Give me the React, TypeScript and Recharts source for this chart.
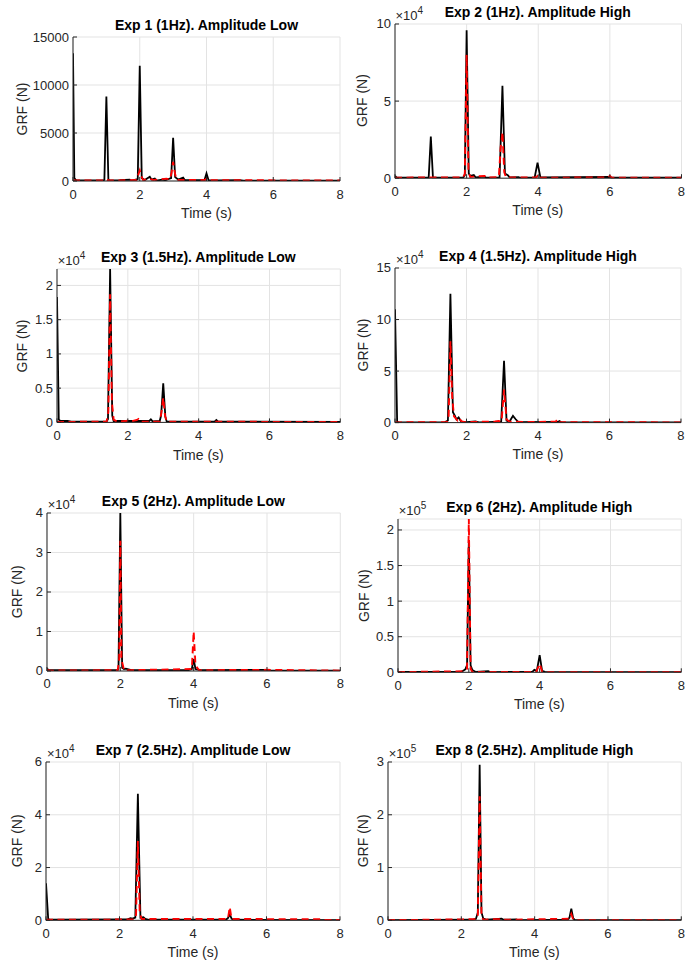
import { CartesianGrid, Line, LineChart, XAxis, YAxis } from "recharts";

type Pt = [number, number];

// time axis shared by all panels
const timeTicks = [0, 2, 4, 6, 8];

const exp1Measured: Pt[] = [
	[0, 13300], [0.04, 300], [0.1, 50], [0.9, 50], [0.94, 120], [1.0, 8800], [1.06, 150], [1.1, 50],
	[1.4, 80], [1.7, 150], [1.75, 50], [1.94, 200], [2.0, 12000], [2.06, 300], [2.15, 100], [2.3, 450],
	[2.35, 150], [2.45, 250], [2.5, 50], [2.7, 150], [2.75, 50], [2.85, 200], [2.94, 300], [3.0, 4500],
	[3.06, 400], [3.15, 150], [3.3, 350], [3.35, 100], [3.6, 80], [3.94, 100], [4.0, 800], [4.06, 100],
	[4.3, 50], [5.0, 100], [5.1, 30], [8, 30],
];
const exp1Model: Pt[] = [
	[0, 50], [0.9, 50], [0.97, 200], [1.03, 100], [1.1, 50], [1.9, 100], [1.95, 600], [2.0, 1100],
	[2.05, 500], [2.1, 100], [2.3, 250], [2.4, 100], [2.8, 250], [2.9, 150], [2.95, 800], [3.0, 2000],
	[3.05, 900], [3.1, 100], [3.95, 100], [4.0, 250], [4.05, 80], [5.0, 80], [8, 50],
];

const exp2Measured: Pt[] = [
	[0, 1500], [0.05, 300], [0.94, 300], [1.0, 27000], [1.06, 300], [1.9, 300], [1.95, 2000], [2.0, 96000],
	[2.06, 3000], [2.1, 1500], [2.2, 2000], [2.25, 500], [2.5, 1000], [2.55, 300], [2.92, 500], [3.0, 60000],
	[3.07, 3000], [3.15, 2000], [3.2, 500], [3.45, 700], [3.5, 300], [3.9, 500], [3.98, 10000],
	[4.06, 500], [6.0, 800], [6.05, 300], [8, 300],
];
const exp2Model: Pt[] = [
	[0, 300], [1.0, 500], [1.9, 500], [1.95, 3000], [2.0, 80000], [2.05, 5000], [2.1, 800], [2.5, 1500],
	[2.55, 300], [2.9, 800], [2.95, 20000], [2.98, 25000], [3.0, 30000], [3.05, 4000], [3.1, 500],
	[3.95, 500], [4.0, 2500], [4.05, 300], [5.95, 500], [6.0, 1500], [6.05, 300], [8, 300],
];

const exp3Measured: Pt[] = [
	[0, 18300], [0.05, 400], [0.1, 200], [0.3, 200], [0.4, 100], [1.4, 100], [1.44, 500], [1.5, 22400],
	[1.56, 1000], [1.6, 200], [2.6, 200], [2.65, 450], [2.7, 150], [2.9, 200], [2.94, 1000], [3.0, 5700],
	[3.06, 800], [3.1, 100], [4.45, 100], [4.5, 350], [4.55, 100], [8, 80],
];
const exp3Model: Pt[] = [
	[0, 50], [0.8, 100], [1.4, 100], [1.45, 1500], [1.5, 18700], [1.55, 3000], [1.6, 400], [1.7, 100],
	[2.0, 250], [2.05, 100], [2.25, 350], [2.3, 500], [2.35, 100], [2.9, 100], [2.95, 1500], [3.0, 3600],
	[3.05, 1000], [3.1, 100], [4.5, 100], [8, 50],
];

const exp4Measured: Pt[] = [
	[0, 110000], [0.06, 1000], [0.1, 300], [1.4, 500], [1.48, 2000], [1.55, 125000], [1.62, 10000],
	[1.67, 7000], [1.72, 3000], [1.78, 5000], [1.85, 1000], [2.0, 500], [2.25, 1200], [2.35, 300],
	[2.97, 1000], [3.05, 60000], [3.12, 2000], [3.2, 800], [3.3, 6500], [3.37, 3500], [3.45, 500],
	[4.55, 600], [4.6, 1500], [4.65, 300], [8, 300],
];
const exp4Model: Pt[] = [
	[0, 200], [1.45, 500], [1.5, 5000], [1.55, 79000], [1.6, 25000], [1.65, 6000], [1.75, 2000],
	[1.8, 4500], [1.85, 1500], [1.95, 500], [2.8, 1000], [2.9, 1500], [2.98, 1000], [3.05, 32000],
	[3.12, 3000], [3.2, 1000], [3.7, 500], [4.5, 1000], [4.55, 3500], [4.6, 500], [8, 200],
];

const exp5Measured: Pt[] = [
	[0, 600], [0.05, 200], [1.9, 200], [1.95, 500], [2.0, 40000], [2.05, 800], [2.1, 500], [2.15, 600],
	[2.3, 200], [3.85, 200], [3.95, 500], [4.0, 3000], [4.05, 500], [4.2, 200], [6.0, 300], [6.05, 100],
	[8, 100],
];
const exp5Model: Pt[] = [
	[0, 300], [0.1, 100], [1.93, 200], [1.97, 3000], [2.0, 33000], [2.03, 3000], [2.1, 300], [2.15, 500],
	[2.2, 200], [3.95, 500], [4.0, 10000], [4.05, 1500], [4.1, 800], [4.15, 200], [6.0, 300], [8, 100],
];

const exp6Measured: Pt[] = [
	[0, 500], [1.8, 1000], [1.9, 4000], [1.95, 10000], [2.0, 186000], [2.05, 10000], [2.1, 3000],
	[2.2, 500], [2.55, 1500], [2.6, 300], [3.8, 1000], [3.85, 3500], [3.92, 2000], [4.0, 24000],
	[4.07, 2000], [4.15, 500], [8, 300],
];
const exp6Model: Pt[] = [
	[0, 300], [1.85, 1500], [1.95, 5000], [2.0, 216000], [2.05, 5000], [2.1, 500], [3.9, 500],
	[4.0, 12000], [4.07, 1000], [4.15, 300], [8, 300],
];

const exp7Measured: Pt[] = [
	[0, 14000], [0.06, 500], [0.1, 200], [2.2, 300], [2.3, 800], [2.35, 600], [2.43, 1000], [2.5, 48000],
	[2.57, 1000], [2.65, 1200], [2.7, 500], [2.8, 200], [4.9, 300], [4.95, 800], [5.0, 2200], [5.05, 600],
	[5.1, 200], [8, 100],
];
const exp7Model: Pt[] = [
	[0, 200], [2.4, 300], [2.45, 2000], [2.5, 30000], [2.55, 3000], [2.6, 500], [4.95, 500], [5.0, 5000],
	[5.05, 500], [7.5, 400], [7.55, 100], [8, 100],
];

const exp8Measured: Pt[] = [
	[0, 500], [2.3, 1000], [2.4, 3000], [2.45, 15000], [2.5, 295000], [2.55, 15000], [2.6, 3000],
	[2.7, 1000], [3.1, 3000], [3.15, 1000], [3.5, 1500], [3.55, 500], [4.9, 1000], [4.95, 5000],
	[5.0, 22000], [5.05, 4000], [5.1, 500], [8, 500],
];
const exp8Model: Pt[] = [
	[0, 300], [2.4, 2000], [2.45, 8000], [2.5, 235000], [2.55, 8000], [2.6, 1000], [3.05, 2500],
	[3.1, 3000], [3.15, 1000], [4.95, 3000], [5.0, 12000], [5.05, 2000], [5.1, 300], [8, 300],
];

const titles = [
	"Exp 1 (1Hz). Amplitude Low",
	"Exp 2 (1Hz). Amplitude High",
	"Exp 3 (1.5Hz). Amplitude Low",
	"Exp 4 (1.5Hz). Amplitude High",
	"Exp 5 (2Hz). Amplitude Low",
	"Exp 6 (2Hz). Amplitude High",
	"Exp 7 (2.5Hz). Amplitude Low",
	"Exp 8 (2.5Hz). Amplitude High",
];
const yMax = [15000, 100000, 22400, 150000, 40000, 215400, 60000, 300000];
const yTicks = [
	[0, 5000, 10000, 15000],
	[0, 50000, 100000],
	[0, 5000, 10000, 15000, 20000],
	[0, 50000, 100000, 150000],
	[0, 10000, 20000, 30000, 40000],
	[0, 50000, 100000, 150000, 200000],
	[0, 20000, 40000, 60000],
	[0, 100000, 200000, 300000],
];
const exponents = [0, 4, 4, 4, 4, 5, 4, 5];
const measured = [exp1Measured, exp2Measured, exp3Measured, exp4Measured, exp5Measured, exp6Measured, exp7Measured, exp8Measured];
const model = [exp1Model, exp2Model, exp3Model, exp4Model, exp5Model, exp6Model, exp7Model, exp8Model];

// plot boxes: left, top, right, bottom, x of the y label
const frames = [
	[73, 37, 340, 181, 22],
	[394.5, 23.5, 681, 177.7, 362],
	[56.7, 269.3, 340, 422.7, 22],
	[395, 267.7, 681, 422.3, 363],
	[46.7, 512.7, 340, 670.7, 17],
	[397.7, 519, 681, 672.3, 364],
	[46, 761.7, 340, 920, 17],
	[387.7, 761.7, 681, 920, 363],
];

const FONT = "'Liberation Sans', Arial, Helvetica, sans-serif";
const AXIS = "#262626";
const PAD = { l: 60, t: 10, r: 10, b: 30 };

function fmt(v: number, exp: number) {
	const s = v / 10 ** exp;
	return String(Math.round(s * 100) / 100);
}

function Panel({ i }: { i: number }) {
	const [L, T, R, B] = frames[i];
	const w = R - L + PAD.l + PAD.r;
	const h = B - T + PAD.t + PAD.b;
	const exp = exponents[i];
	const black = measured[i].map(([t, v]) => ({ t, v }));
	const red = model[i].map(([t, v]) => ({ t, v }));

	const LeftTick = (p: any) => (
		<g>
			<line x1={p.x} x2={p.x + 4} y1={p.y} y2={p.y} stroke={AXIS} />
			<text x={p.x - 4} y={p.y} textAnchor="end" dominantBaseline="central" fontSize={13} fill={AXIS} fontFamily={FONT}>
				{fmt(p.payload.value, exp)}
			</text>
		</g>
	);
	const RightTick = (p: any) => <line x1={p.x} x2={p.x - 4} y1={p.y} y2={p.y} stroke={AXIS} />;
	const BottomTick = (p: any) => (
		<g>
			<line x1={p.x} x2={p.x} y1={p.y} y2={p.y - 4} stroke={AXIS} />
			<text x={p.x} y={p.y + 13} textAnchor="middle" dominantBaseline="central" fontSize={13} fill={AXIS} fontFamily={FONT}>
				{p.payload.value}
			</text>
		</g>
	);
	const TopTick = (p: any) => <line x1={p.x} x2={p.x} y1={p.y} y2={p.y + 4} stroke={AXIS} />;

	return (
		<div style={{ position: "absolute", left: L - PAD.l, top: T - PAD.t }}>
			<LineChart width={w} height={h} margin={{ top: PAD.t, right: PAD.r, bottom: PAD.b - 20, left: PAD.l - 40 }}>
				<CartesianGrid stroke="#e3e3e3" />
				<XAxis type="number" dataKey="t" domain={[0, 8]} ticks={timeTicks} height={20} tickSize={0} tickMargin={0}
					axisLine={{ stroke: AXIS }} tick={BottomTick} allowDataOverflow />
				<XAxis xAxisId="top" orientation="top" type="number" dataKey="t" domain={[0, 8]} ticks={timeTicks} height={0}
					tickSize={0} tickMargin={0} axisLine={{ stroke: AXIS }} tick={TopTick} allowDataOverflow />
				<YAxis type="number" domain={[0, yMax[i]]} ticks={yTicks[i]} width={40} tickSize={0} tickMargin={0}
					axisLine={{ stroke: AXIS }} tick={LeftTick} allowDataOverflow />
				<YAxis yAxisId="right" orientation="right" type="number" domain={[0, yMax[i]]} ticks={yTicks[i]} width={0}
					tickSize={0} tickMargin={0} axisLine={{ stroke: AXIS }} tick={RightTick} allowDataOverflow />
				<Line data={black} dataKey="v" type="linear" stroke="#000000" strokeWidth={1.8} dot={false} activeDot={false} isAnimationActive={false} />
				<Line data={red} dataKey="v" type="linear" stroke="#ff0000" strokeWidth={1.9} strokeDasharray="7 4.5" dot={false} activeDot={false} isAnimationActive={false} />
			</LineChart>
		</div>
	);
}

export default function App() {
	return (
		<div style={{ position: "absolute", left: 0, top: 0, width: 699, height: 965, background: "#fff" }}>
			{titles.map((_, i) => (
				<Panel key={i} i={i} />
			))}
			<svg width={699} height={965} style={{ position: "absolute", left: 0, top: 0, pointerEvents: "none" }} fontFamily={FONT}>
				{frames.map(([L, T, R, B, gx], i) => (
					<g key={i}>
						<text x={(L + R) / 2} y={T - 7} textAnchor="middle" fontSize={14} fontWeight="bold" fill="#000">
							{titles[i]}
						</text>
						{exponents[i] > 0 && (
							<text x={L + 1} y={T - 4} fontSize={13} fill={AXIS}>
								×10<tspan dy={-6} fontSize={10}>{exponents[i]}</tspan>
							</text>
						)}
						<text x={(L + R) / 2} y={B + 32} textAnchor="middle" dominantBaseline="central" fontSize={14} fill={AXIS}>
							Time (s)
						</text>
						<text x={gx} y={(T + B) / 2} textAnchor="middle" dominantBaseline="central" fontSize={14} fill={AXIS}
							transform={`rotate(-90 ${gx} ${(T + B) / 2})`}>
							GRF (N)
						</text>
					</g>
				))}
			</svg>
		</div>
	);
}
